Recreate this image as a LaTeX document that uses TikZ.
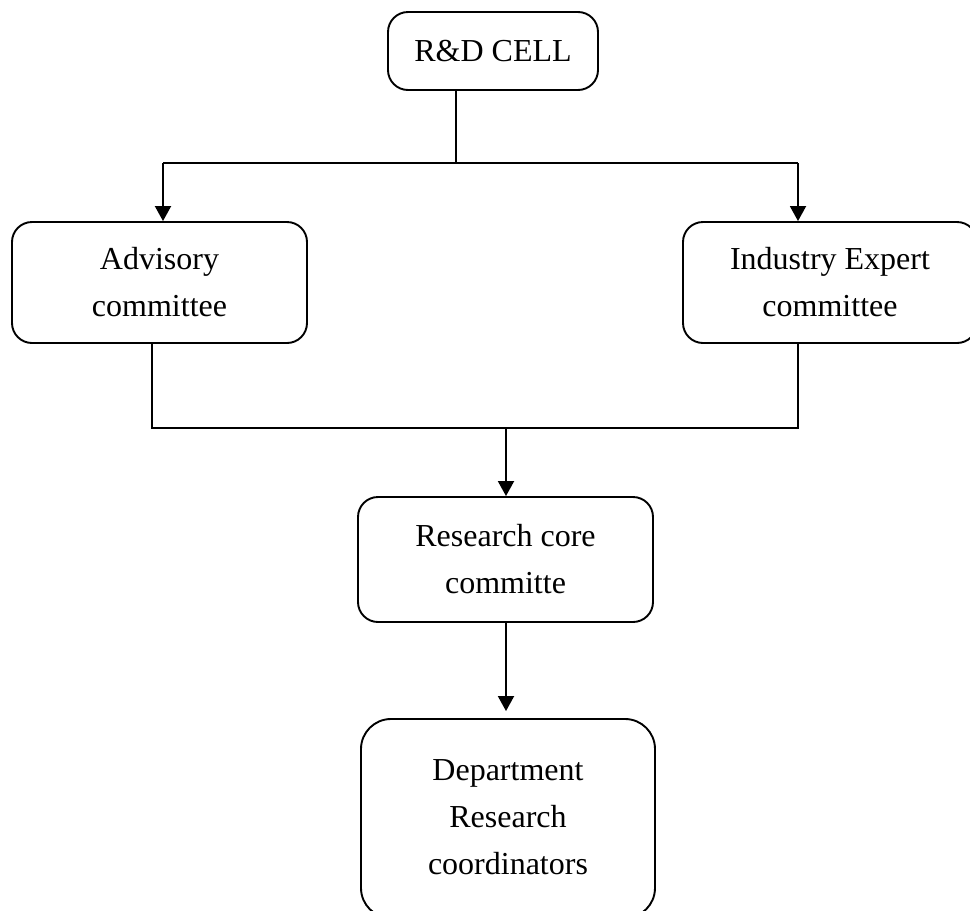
\documentclass[tikz,border=0pt]{standalone}
\usepackage{fontspec}
\setmainfont{Liberation Serif}
\usetikzlibrary{arrows.meta,calc}
\begin{document}
\begin{tikzpicture}[x=1pt,y=-1pt,
  box/.style={draw, line width=1.9pt, rounded corners=20pt, align=center,
    font=\fontsize{32}{47}\selectfont, inner sep=0pt},
  conn/.style={line width=1.9pt},
  arr/.style={line width=1.9pt, -{Triangle[length=15pt,width=16pt]}}]
\useasboundingbox (0,0) rectangle (970,911);
\node[box, minimum width=210, minimum height=78] (rd) at (493,51) {R\&D CELL};
\node[box, minimum width=295, minimum height=121] (adv) at (159.5,282.5) {Advisory\\committee};
\node[box, minimum width=294, minimum height=121] (ind) at (830,282.5) {Industry Expert\\committee};
\node[box, minimum width=295, minimum height=125] (rc) at (505.5,559.5) {Research core\\committe};
\node[box, minimum width=294, minimum height=199, rounded corners=30pt] (dept) at (508,818.5)
  {\raisebox{7pt}{\begin{tabular}{@{}c@{}}Department\\Research\\coordinators\end{tabular}}};
\coordinate (t) at (456,163);
\coordinate (aL) at (163,163);
\coordinate (aR) at (798,163);
\coordinate (bL) at (152,428);
\coordinate (bR) at (798,428);
\coordinate (bm) at (506,428);
\draw[conn] (rd.south -| t) -- (t);
\draw[conn] (aL) -- (aR);
\draw[arr] (aL) -- (aL |- adv.north);
\draw[arr] (aR) -- (aR |- ind.north);
\draw[conn] (adv.south -| bL) -- (bL) -- (bR) -- (ind.south -| bR);
\draw[arr] (bm) -- (rc.north -| bm);
\draw[arr, shorten >=7pt] (rc.south -| bm) -- (dept.north -| bm);
\end{tikzpicture}
\end{document}
